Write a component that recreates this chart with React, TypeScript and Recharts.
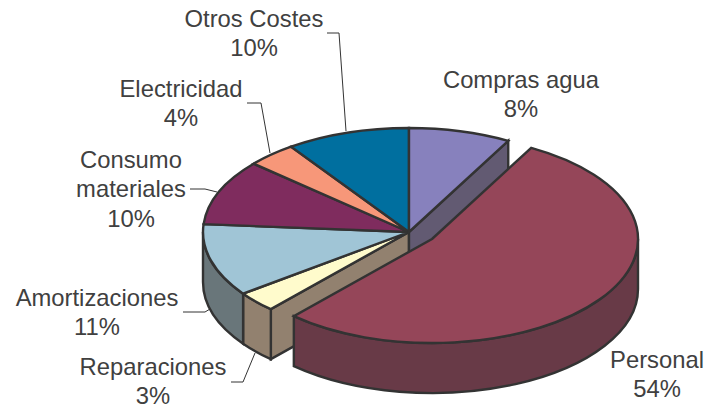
import { PieChart, Pie } from 'recharts'

const categories = ['Reparaciones', 'Amortizaciones', 'Consumo materiales', 'Electricidad', 'Otros Costes', 'Compras agua', 'Personal']
const shares = [3.2, 11.3, 10.2, 3.9, 9.7, 8, 53.7]
const topColors = ['#fffbcc', '#a0c5d6', '#7f2c5e', '#f79779', '#006f9f', '#8781bd', '#954659']
const sideColors = ['#92816f', '#69767a', '#5a2043', '#ad6a55', '#004e70', '#625a72', '#683a47']

const tableData = categories.map((name, i) => ({ name, value: shares[i] }))

const WIDTH = 709
const HEIGHT = 409
const CX = 409
const CY = 232
const RX = 206
const TILT = 0.505
const DEPTH = 50
const START = -132.12
const EXPLODED = 'Personal'
const OFFSET = { x: 23, y: 7 }
const LINE = '#333333'
const TEXT = '#404040'

// label anchors and leader lines, by category
const labelLayout: Record<string, { x: number; y: number; lines: string[]; leader: number[][] }> = {
  'Otros Costes': { x: 254, y: 27, lines: ['Otros Costes'], leader: [[327, 33], [339, 33], [346, 131]] },
  Electricidad: { x: 181, y: 97, lines: ['Electricidad'], leader: [[247, 103], [261, 103], [270, 153]] },
  'Consumo materiales': { x: 131, y: 168, lines: ['Consumo', 'materiales'], leader: [[190, 189], [205, 189], [217, 192]] },
  'Compras agua': { x: 521, y: 88, lines: ['Compras agua'], leader: [] },
  Personal: { x: 657, y: 368, lines: ['Personal'], leader: [] },
  Amortizaciones: { x: 97, y: 306, lines: ['Amortizaciones'], leader: [[183, 312], [205, 312], [210, 309]] },
  Reparaciones: { x: 153, y: 375, lines: ['Reparaciones'], leader: [[231, 382], [243, 382], [255, 353]] },
}

const point = (cx: number, cy: number, rx: number, angle: number) => {
  const rad = (angle * Math.PI) / 180
  return { x: cx + rx * Math.cos(rad), y: cy - rx * TILT * Math.sin(rad) }
}

function SliceShape(props: any) {
  const { cx, cy, outerRadius: rx, startAngle, endAngle, fill, index, name } = props
  const ry = rx * TILT
  const exploded = name === EXPLODED
  const ox = cx + (exploded ? OFFSET.x : 0)
  const oy = cy + (exploded ? OFFSET.y : 0)
  const side = sideColors[index]
  const a = point(ox, oy, rx, startAngle)
  const b = point(ox, oy, rx, endAngle)
  const large = Math.abs(startAngle - endAngle) > 180 ? 1 : 0
  const top = `M${ox},${oy} L${a.x},${a.y} A${rx},${ry} 0 ${large} 1 ${b.x},${b.y} Z`

  // outer wall: only the part of the rim on the front half
  const walls: string[] = []
  for (const k of [0, -360]) {
    const from = Math.min(startAngle, k)
    const to = Math.max(endAngle, k - 180)
    if (from > to) {
      const p = point(ox, oy, rx, from)
      const q = point(ox, oy, rx, to)
      const big = from - to > 180 ? 1 : 0
      walls.push(
        `M${p.x},${p.y} A${rx},${ry} 0 ${big} 1 ${q.x},${q.y} L${q.x},${q.y + DEPTH} A${rx},${ry} 0 ${big} 0 ${p.x},${p.y + DEPTH} Z`,
      )
    }
  }

  // cut faces uncovered by the slice pulled out
  const cuts: string[] = []
  const face = (e: { x: number; y: number }) =>
    `M${ox},${oy} L${e.x},${e.y} L${e.x},${e.y + DEPTH} L${ox},${oy + DEPTH} Z`
  if (index === 0) cuts.push(face(a))
  if (index === categories.indexOf(EXPLODED) - 1) cuts.push(face(b))

  return (
    <g>
      {cuts.map((d, i) => (
        <path key={'c' + i} d={d} fill={side} stroke={LINE} strokeWidth={2.4} />
      ))}
      {walls.map((d, i) => (
        <path key={'w' + i} d={d} fill={side} stroke={LINE} strokeWidth={2.4} />
      ))}
      <path d={top} fill={fill} stroke={LINE} strokeWidth={2.4} />
    </g>
  )
}

function SliceLabel(props: any) {
  const layout = labelLayout[props.name]
  const rows = [...layout.lines, `${Math.round(props.value)}%`]
  return (
    <g>
      {layout.leader.length > 0 && (
        <polyline points={layout.leader.map((p) => p.join(',')).join(' ')} fill="none" stroke={LINE} strokeWidth={1} />
      )}
      <text textAnchor="middle" fontFamily="'Liberation Sans', Arial, sans-serif" fontSize={23.8} fill={TEXT}>
        {rows.map((row, i) => (
          <tspan key={row} x={layout.x} y={layout.y + i * 29.3}>
            {row}
          </tspan>
        ))}
      </text>
    </g>
  )
}

export default function App() {
  return (
    <div style={{ position: 'absolute', left: 0, top: 0, width: WIDTH, height: HEIGHT, background: '#fff' }}>
      <PieChart width={WIDTH} height={HEIGHT} margin={{ top: 0, right: 0, bottom: 0, left: 0 }}>
        <Pie
          data={tableData.map((d, i) => ({ ...d, fill: topColors[i] }))}
          dataKey="value"
          nameKey="name"
          cx={CX}
          cy={CY}
          innerRadius={0}
          outerRadius={RX}
          startAngle={START}
          endAngle={START - 360}
          paddingAngle={0}
          shape={SliceShape}
          label={SliceLabel}
          labelLine={false}
          isAnimationActive={false}
        />
      </PieChart>
    </div>
  )
}
